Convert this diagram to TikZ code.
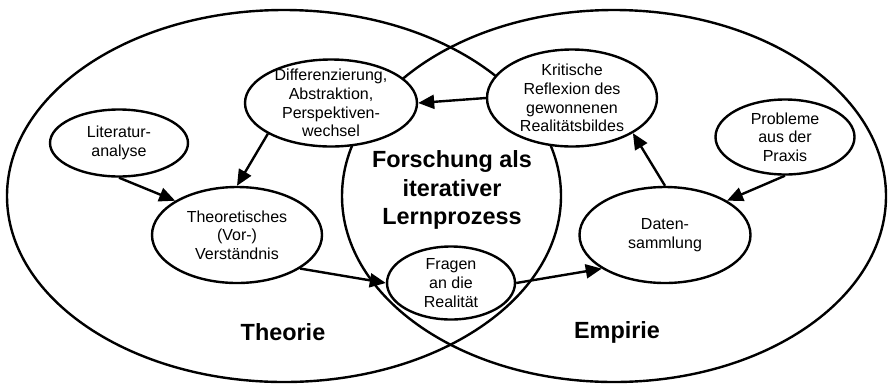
\documentclass[tikz,border=0pt]{standalone}
\usepackage{fontspec}
\setmainfont{Liberation Sans}
\usetikzlibrary{shapes.geometric, arrows.meta, positioning}

\begin{document}
\begin{tikzpicture}[
  x=1pt, y=-1pt,
  line width=2.4pt,
  field/.style={ellipse, draw, inner sep=0pt},
  bubble/.style={ellipse, draw, fill=white, inner sep=-6pt, align=center,
    font=\fontsize{16}{18.6}\selectfont},
  title/.style={align=center, font=\fontsize{23.4}{28.5}\selectfont\bfseries},
  arr/.style={-{Triangle[length=16pt, width=14pt]}}
]
\useasboundingbox (0,0) rectangle (894,384);

% Fields
\node[field, minimum width=554pt, minimum height=372pt] (theoriefeld) at (284,196) {};
\node[field, minimum width=544pt, minimum height=372pt] (empiriefeld) at (614,196) {};

\node[title] (forschung) at (452,190) {Forschung als\\iterativer\\Lernprozess};
\node[title] (theorie) at (283,332) {Theorie};
\node[title] (empirie) at (617,332) {Empirie};

% Steps
\node[bubble, minimum width=138pt, minimum height=67pt] (lit) at (119,143)
  {Literatur-\\analyse};
\node[bubble, minimum width=172pt, minimum height=87pt] (diff) at (331,103)
  {Differenzierung,\\Abstraktion,\\Perspektiven-\\wechsel};
\node[bubble, minimum width=170pt, minimum height=96pt] (vorverst) at (237,235)
  {Theoretisches\\(Vor-)\\Verständnis};
\node[bubble, minimum width=128pt, minimum height=73pt] (fragen) at (451,283)
  {Fragen\\an die\\Realität};
\node[bubble, minimum width=170pt, minimum height=97pt] (krit) at (572,98)
  {Kritische\\Reflexion des\\gewonnenen\\Realitätsbildes};
\node[bubble, minimum width=139pt, minimum height=75pt] (prob) at (785,137)
  {Probleme\\aus der\\Praxis};
\node[bubble, minimum width=171pt, minimum height=96pt] (daten) at (665,235)
  {Daten-\\sammlung};

% Arrows
\draw[arr] (lit.south) -- (vorverst.151);
\draw[arr] (diff.206) -- (vorverst.north);
\draw[arr] (vorverst.-28) -- (fragen.west);
\draw[arr] (fragen.east) -- (daten.208);
\draw[arr] (daten.north) -- (krit.-30);
\draw[arr] (prob.south) -- (daten.29);
\draw[arr] (krit.west) -- (diff.east);

\end{tikzpicture}
\end{document}
